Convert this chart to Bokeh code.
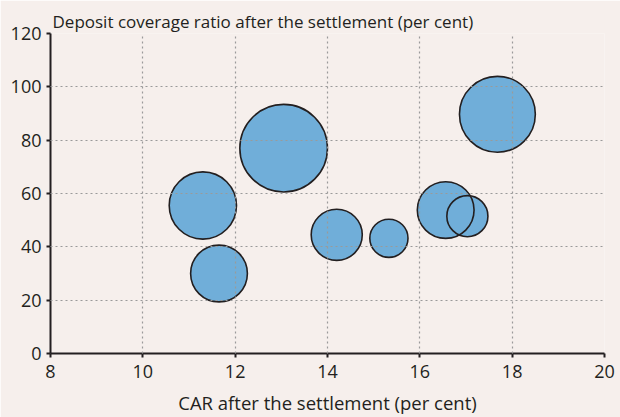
import numpy as np
from bokeh.plotting import figure
from bokeh.models import ColumnDataSource, FixedTicker, Range1d, Title
from bokeh.embed import file_html
from bokeh.resources import INLINE

# Data
car = [13.05, 11.3, 11.65, 14.2, 15.33, 17.68, 16.56, 17.03]
coverage = [77, 55.5, 30, 44.5, 43.2, 89.7, 53.8, 51.5]
bubble_value = [100, 59, 42, 34, 19, 75, 42, 22]  # relative bubble magnitude (area)

x_ticks = [8, 10, 12, 14, 16, 18, 20]
y_ticks = [0, 20, 40, 60, 80, 100, 120]

FONT = "Open Sans"
FS = "18px"
BG = "#f6efec"
INK = "#231f20"

diam = [2 * 43.8 * np.sqrt(v / 100.0) for v in bubble_value]
src = ColumnDataSource(dict(x=car, y=coverage, d=diam))

p = figure(width=620, height=417, output_backend="svg", toolbar_location=None,
           x_range=Range1d(8, 20), y_range=Range1d(0, 120),
           min_border_left=50, min_border_right=16, min_border_top=33,
           min_border_bottom=64)
p.background_fill_color = BG
p.border_fill_color = BG
p.outline_line_color = None

p.scatter("x", "y", size="d", source=src, fill_color="#70aed9", line_color=None)
p.scatter("x", "y", size="d", source=src, fill_color=None, line_color=INK, line_width=1.6)

p.xaxis.ticker = FixedTicker(ticks=x_ticks)
p.yaxis.ticker = FixedTicker(ticks=y_ticks)
p.xgrid.ticker = FixedTicker(ticks=x_ticks[1:])
p.ygrid.ticker = FixedTicker(ticks=y_ticks[1:])
for g in (p.xgrid, p.ygrid):
    g.grid_line_color = "#9a9a9a"
    g.grid_line_dash = "2 3"
    g.grid_line_width = 1.2
    g.level = "overlay"

for ax in (p.xaxis, p.yaxis):
    ax.axis_line_color = INK
    ax.axis_line_width = 2
    ax.major_tick_line_color = INK
    ax.major_tick_line_width = 2
    ax.major_tick_out = 4
    ax.major_tick_in = 0
    ax.minor_tick_line_color = None
    ax.major_label_text_font = FONT
    ax.major_label_text_font_size = FS
    ax.major_label_text_color = INK

p.xaxis.major_label_standoff = 7
p.yaxis.major_label_standoff = 5
p.xaxis.axis_label = "CAR after the settlement (per cent)"
p.xaxis.axis_label_text_font = FONT
p.xaxis.axis_label_text_font_size = "18.5px"
p.xaxis.axis_label_text_font_style = "normal"
p.xaxis.axis_label_text_color = INK
p.xaxis.axis_label_standoff = 9

p.add_layout(Title(text="Deposit coverage ratio after the settlement (per cent)",
                   text_font=FONT, text_font_size="17px", text_color=INK,
                   text_font_style="normal", align="left", offset=2,
                   standoff=1), "above")

open("out.html", "w").write(file_html(p, INLINE))
